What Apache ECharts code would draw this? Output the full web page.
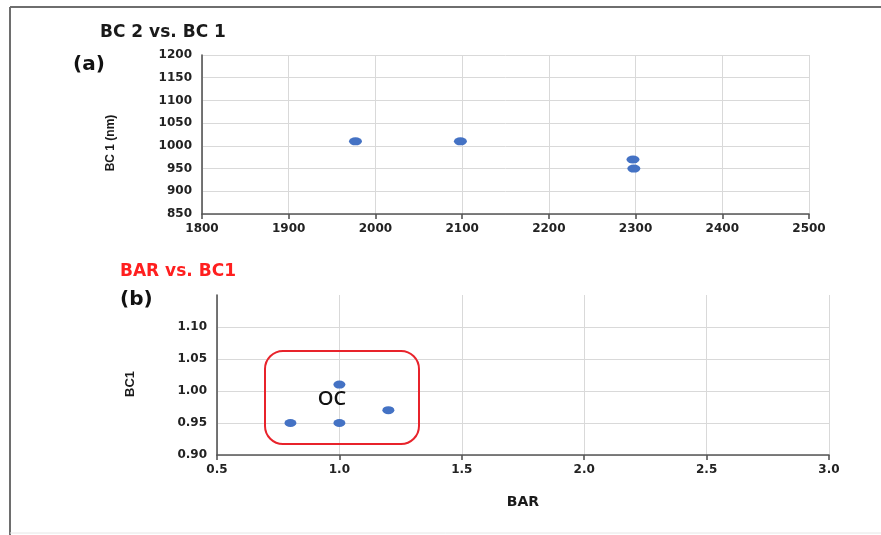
<!DOCTYPE html>
<html>
<head>
<meta charset="utf-8">
<script src="https://cdn.jsdelivr.net/npm/echarts@6/dist/echarts.min.js"></script>
<style>
html,body{margin:0;padding:0;background:#fff;}
#chart{width:881px;height:535px;}
</style>
</head>
<body>
<div id="chart"></div>
<script>
// ---- data ----
var bc2Values = [1977, 2098, 2297, 2298];      // x of panel (a)
var bc1nmValues = [1010, 1010, 970, 950];      // y of panel (a)
var barValues = [0.8, 1.0, 1.0, 1.2];          // x of panel (b)
var bc1Values = [0.95, 0.95, 1.01, 0.97];      // y of panel (b)

var titleA = 'BC 2 vs. BC 1';
var titleB = 'BAR vs. BC1';
var yNameA = 'BC 1 (nm)';
var yNameB = 'BC1';
var xNameB = 'BAR';
var boxLabel = 'OC';

function pairs(xs, ys){ return xs.map(function(x,i){ return [x, ys[i]]; }); }

var chart = echarts.init(document.getElementById('chart'));

var tickFont = {fontFamily:'DejaVu Sans', fontWeight:'bold', fontSize:12, color:'#222'};
var axisLineStyle = {color:'#555', width:1.6};
var splitStyle = {color:'#d9d9d9', width:1};

var option = {
  animation:false,
  backgroundColor:'#fff',
  title:[
    {text:titleA, left:100, top:24, padding:0,
     textStyle:{fontFamily:'DejaVu Sans', fontWeight:'bold', fontSize:17, color:'#1a1a1a'}},
    {text:titleB, left:120, top:263, padding:0,
     textStyle:{fontFamily:'DejaVu Sans', fontWeight:'bold', fontSize:17, color:'#ff1f1f'}}
  ],
  grid:[
    {left:202, top:55, width:607, height:159},
    {left:217, top:295, width:612, height:160}
  ],
  xAxis:[
    {gridIndex:0, type:'value', min:1800, max:2500, interval:100,
     axisLine:{show:true, lineStyle:axisLineStyle},
     axisTick:{show:true, length:5, lineStyle:axisLineStyle},
     axisLabel:Object.assign({margin:9, formatter:function(v){return String(v);}}, tickFont),
     splitLine:{show:true, lineStyle:splitStyle}},
    {gridIndex:1, type:'value', min:0.5, max:3.0, interval:0.5,
     name:xNameB, nameLocation:'middle', nameGap:40,
     nameTextStyle:{fontFamily:'DejaVu Sans', fontWeight:'bold', fontSize:14, color:'#1a1a1a'},
     axisLine:{show:true, lineStyle:axisLineStyle},
     axisTick:{show:true, length:5, lineStyle:axisLineStyle},
     axisLabel:Object.assign({margin:9, formatter:function(v){return v.toFixed(1);}}, tickFont),
     splitLine:{show:true, lineStyle:splitStyle}}
  ],
  yAxis:[
    {gridIndex:0, type:'value', min:850, max:1200, interval:50,
     axisLine:{show:true, lineStyle:axisLineStyle},
     axisTick:{show:false},
     axisLabel:Object.assign({margin:10, formatter:function(v){return String(v);}}, tickFont),
     splitLine:{show:true, lineStyle:splitStyle}},
    {gridIndex:1, type:'value', min:0.90, max:1.15, interval:0.05,
     axisLine:{show:true, lineStyle:axisLineStyle},
     axisTick:{show:false},
     axisLabel:Object.assign({margin:10, showMaxLabel:false, formatter:function(v){return v.toFixed(2);}}, tickFont),
     splitLine:{show:true, showMaxLine:false, lineStyle:splitStyle}}
  ],
  series:[
    {type:'scatter', xAxisIndex:0, yAxisIndex:0, data:pairs(bc2Values, bc1nmValues),
     symbol:'circle', symbolSize:[13,8], itemStyle:{color:'#4472c4', opacity:1}},
    {type:'scatter', xAxisIndex:1, yAxisIndex:1, data:pairs(barValues, bc1Values),
     symbol:'circle', symbolSize:[12,8], itemStyle:{color:'#4472c4', opacity:1}}
  ],
  graphic:[
    {type:'line', shape:{x1:10, y1:7, x2:881, y2:7}, style:{stroke:'#6e6e6e', lineWidth:2}, silent:true},
    {type:'line', shape:{x1:10, y1:7, x2:10, y2:535}, style:{stroke:'#6e6e6e', lineWidth:2}, silent:true},
    {type:'line', shape:{x1:10, y1:533, x2:881, y2:533}, style:{stroke:'#e6e6e6', lineWidth:1}, silent:true},
    {type:'text', left:73, top:55, style:{text:'(a)', font:'bold 20px "DejaVu Sans"', fill:'#111'}},
    {type:'text', left:120, top:290, style:{text:'(b)', font:'bold 20px "DejaVu Sans"', fill:'#111'}},
    {type:'text', x:111, y:143, rotation:Math.PI/2,
     style:{text:yNameA, font:'bold 12px "Liberation Sans"', fill:'#1a1a1a', align:'center', verticalAlign:'middle'}},
    {type:'text', x:130, y:384, rotation:Math.PI/2,
     style:{text:yNameB, font:'bold 13px "Liberation Sans"', fill:'#1a1a1a', align:'center', verticalAlign:'middle'}},
    {type:'rect', shape:{x:265, y:351, width:154, height:93, r:18}, z:10,
     style:{fill:'none', stroke:'#e8232b', lineWidth:2}},
    {type:'text', x:332, y:399, z:11,
     style:{text:boxLabel, font:'600 20px "Open Sans"', fill:'#111', align:'center', verticalAlign:'middle'}}
  ]
};
chart.setOption(option);
</script>
</body>
</html>
